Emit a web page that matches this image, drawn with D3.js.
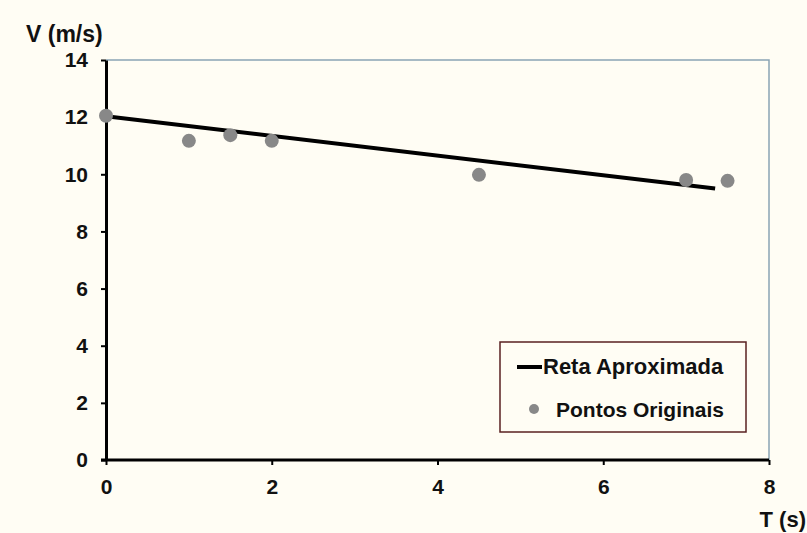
<!DOCTYPE html>
<html>
<head>
<meta charset="utf-8">
<script src="https://cdn.jsdelivr.net/npm/d3@7"></script>
<style>
  body { margin: 0; background: #fffdf4; }
  text { font-family: "Liberation Sans", Arial, sans-serif; font-weight: bold; fill: #111; }
</style>
</head>
<body>
<div id="chart"></div>
<script>
// data
var tempo = [0, 1, 1.5, 2, 4.5, 7, 7.5],
  velocidade = [12.05, 11.17, 11.37, 11.17, 9.98, 9.8, 9.77];

var reta_t = [0, 7.35],
  reta_v = [12.03, 9.5];

var x_ticks = [0, 2, 4, 6, 8],
  y_ticks = [0, 2, 4, 6, 8, 10, 12, 14];

var legend_labels = ["Reta Aproximada", "Pontos Originais"];

var width = 807, height = 533;
var margin = {left: 106, right: 38, top: 60, bottom: 73};

var svg = d3.select("#chart").append("svg")
    .attr("width", width)
    .attr("height", height);

svg.append("rect")
    .attr("width", width)
    .attr("height", height)
    .attr("fill", "#fffdf4");

var x = d3.scaleLinear()
  .domain([0, 8])
  .range([margin.left, width - margin.right]);

var y = d3.scaleLinear()
  .domain([0, 14])
  .range([height - margin.bottom, margin.top]);

// plot frame (top and right)
svg.append("path")
    .attr("d", "M" + x(0) + "," + y(14) + "H" + x(8) + "V" + y(0))
    .attr("fill", "none")
    .attr("stroke", "#8aa4b4")
    .attr("stroke-width", 1.5);

// axes
var xAxis = svg.append("g")
    .attr("transform", "translate(0," + y(0) + ")")
    .call(d3.axisBottom(x).tickValues(x_ticks).tickSize(5).tickPadding(14).tickSizeOuter(0));

var yAxis = svg.append("g")
    .attr("transform", "translate(" + x(0) + ",0)")
    .call(d3.axisLeft(y).tickValues(y_ticks).tickSize(5).tickPadding(13).tickSizeOuter(0));

[xAxis, yAxis].forEach(function(a){
  a.attr("font-size", 21).attr("font-family", "Liberation Sans, Arial, sans-serif");
  a.select(".domain").attr("stroke", "#000").attr("stroke-width", 3);
  a.selectAll(".tick line").attr("stroke", "#000").attr("stroke-width", 2);
  a.selectAll(".tick text")
    .attr("font-weight", "bold")
    .attr("fill", "#111");
});
xAxis.select(".domain").attr("d", "M" + (x(0) - 5) + ",0H" + x(8));

// axis titles
svg.append("text")
    .attr("x", 26)
    .attr("y", 42)
    .attr("font-size", 23)
    .text("V (m/s)");

svg.append("text")
    .attr("x", 806)
    .attr("y", 527)
    .attr("text-anchor", "end")
    .attr("font-size", 22)
    .text("T (s)");

// fitted line
var line = d3.line()
  .x(function(d){ return x(d[0]); })
  .y(function(d){ return y(d[1]); });

svg.append("path")
    .datum(d3.zip(reta_t, reta_v))
    .attr("d", line)
    .attr("fill", "none")
    .attr("stroke", "#000")
    .attr("stroke-width", 4);

// original points
svg.selectAll(".ponto")
    .data(d3.zip(tempo, velocidade))
  .enter().append("circle")
    .attr("class", "ponto")
    .attr("cx", function(d){ return x(d[0]); })
    .attr("cy", function(d){ return y(d[1]); })
    .attr("r", 7)
    .attr("fill", "#888888");

// legend
var legend = svg.append("g")
    .attr("transform", "translate(500,342)");

legend.append("rect")
    .attr("width", 246)
    .attr("height", 90)
    .attr("fill", "#fffdf4")
    .attr("stroke", "#5a2020")
    .attr("stroke-width", 1.5);

legend.append("line")
    .attr("x1", 17).attr("x2", 42)
    .attr("y1", 25).attr("y2", 25)
    .attr("stroke", "#000")
    .attr("stroke-width", 4);

legend.append("circle")
    .attr("cx", 34)
    .attr("cy", 67)
    .attr("r", 5)
    .attr("fill", "#888888");

legend.selectAll(".legend-label")
    .data(legend_labels)
  .enter().append("text")
    .attr("class", "legend-label")
    .attr("x", function(d, i){ return i == 0 ? 43 : 56; })
    .attr("y", function(d, i){ return i == 0 ? 32 : 75; })
    .attr("font-size", function(d, i){ return i == 0 ? 22 : 21; })
    .text(function(d){ return d; });
</script>
</body>
</html>
